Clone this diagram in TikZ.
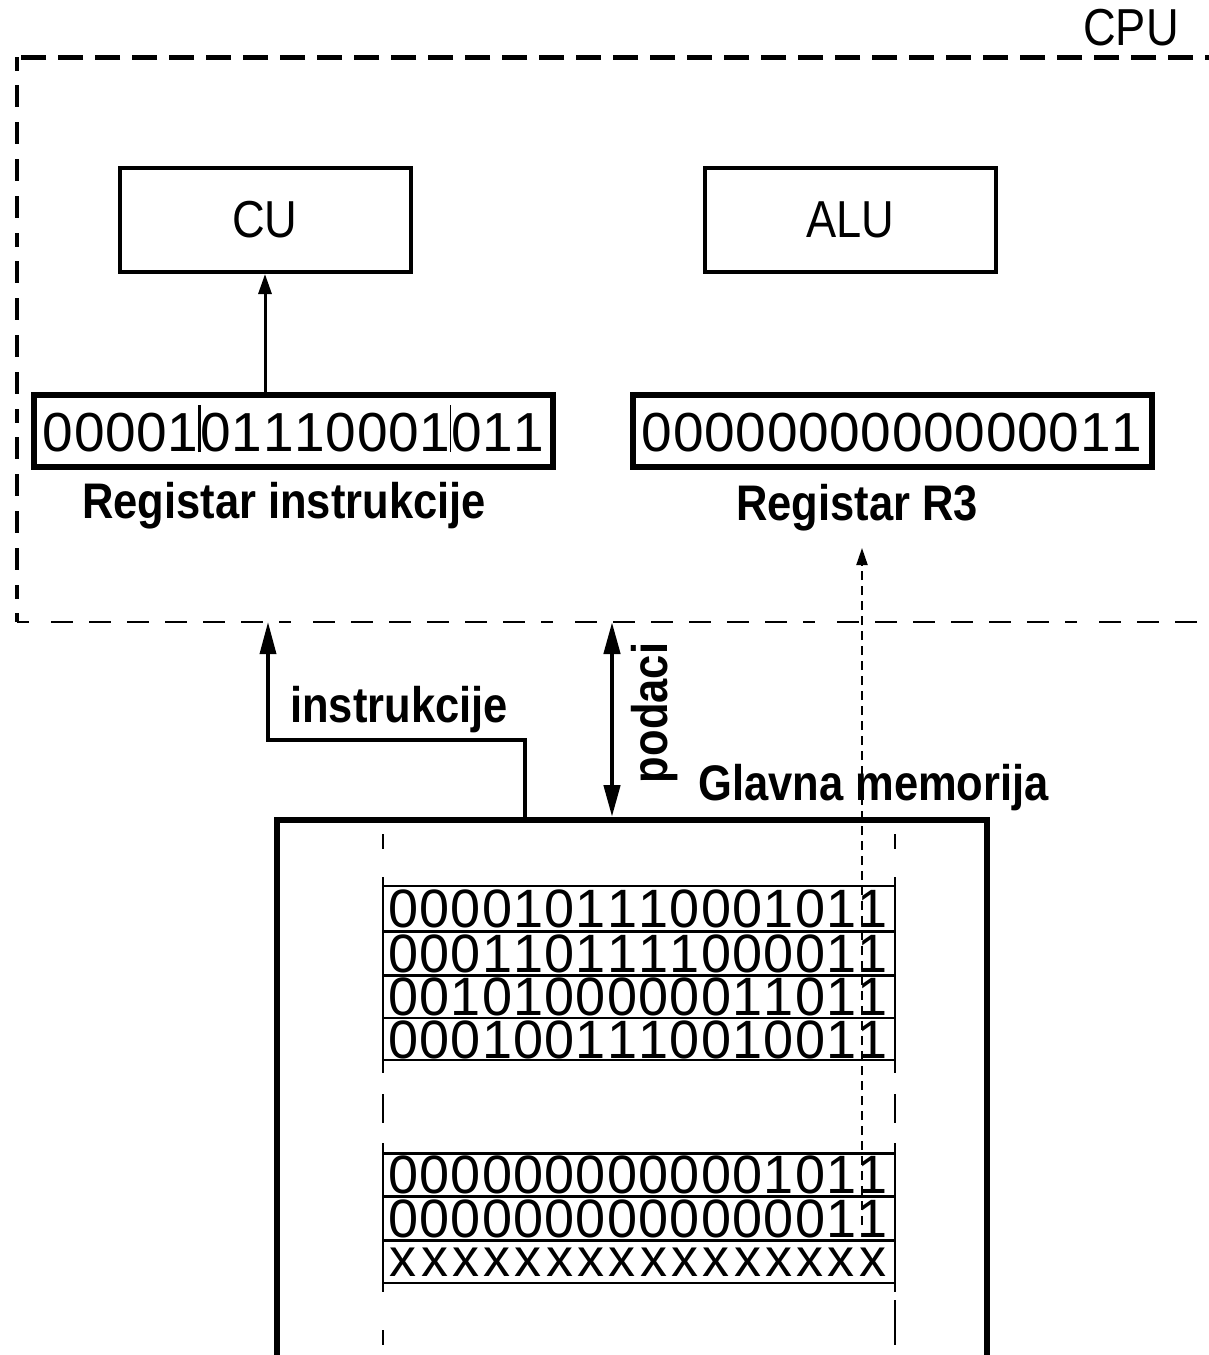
\documentclass[tikz,border=0pt]{standalone}
\usepackage{fontspec}
\setmainfont{Liberation Sans}
\newfontfamily\condfont{Liberation Sans}[FakeStretch=0.87]
\usetikzlibrary{arrows.meta}
\newlength\dw
\setlength{\dw}{31.3pt}
\newcommand\cells[1]{\cellsi#1\relax}
\def\cellsi#1{\ifx#1\relax\else\makebox[\dw]{#1}\expandafter\cellsi\fi}
\newcommand\irbar[1]{\kern-0.8pt\vrule width #1pt height 46pt depth 1pt\kern-0.8pt}
\begin{document}
\begin{tikzpicture}[x=1pt,y=-1pt,
  regbox/.style={draw, line width=6pt, minimum width=519pt, minimum height=72pt,
    inner sep=0pt, text height=40pt, text depth=0pt, font=\fontsize{55}{60}\selectfont},
  unitbox/.style={draw, line width=4pt, minimum width=291pt, minimum height=104pt,
    inner sep=0pt, font=\condfont\fontsize{52}{56}\selectfont},
  txt/.style={anchor=base, inner sep=0pt, font=\condfont\fontsize{52}{56}\selectfont},
  lab/.style={anchor=base, inner sep=0pt, font=\condfont\bfseries\fontsize{50}{54}\selectfont},
  memrow/.style={inner sep=0pt, text height=38pt, text depth=0pt, font=\fontsize{54}{58}\selectfont},
  thinrule/.style={line width=2pt},
  thickrule/.style={line width=3pt},
  memdash/.style={line width=2.5pt},
  conn/.style={line width=3.5pt, line join=miter},
  bigtip/.style={-{Triangle[width=16pt,length=32pt]}},
]
\useasboundingbox (0,0) rectangle (1209,1355);
\begin{scope}
\clip (0,0) rectangle (1209,1355);

% CPU container
\node[inner sep=0pt, outer sep=0pt, minimum width=1213pt, minimum height=565pt] (cpu) at (623.5,339.5) {};
\draw[line width=5pt, dash pattern=on 25pt off 12pt] (cpu.north east) -- (cpu.north west);
\draw[line width=3.5pt, dash pattern=on 14pt off 14pt on 22pt off 15pt on 22pt off 15pt on 22pt off 15pt on 22pt off 15pt] (cpu.north west) -- (cpu.south west);
\draw[line width=2.2pt, dash pattern=on 12pt off 22pt on 22pt off 16pt on 22pt off 16pt on 22pt off 16pt on 22pt off 16pt on 22pt off 16pt on 22pt off 16pt] (cpu.south west) -- (cpu.south east);
\node[txt] (cpulab) at (1131,45) {CPU};

% units
\node[unitbox] (cu) at (265,220) {CU};
\node[unitbox] (alu) at (850,219.5) {ALU};

% registers
\node[regbox] (ir) at (293.5,431) {\cells{00001}\irbar{3}\cells{01110001}\irbar{1.5}\cells{011}};
\node[regbox] (r3) at (892,431) {\cells{0000000000000011}};
\node[lab] (irlab) at (284,518) {Registar instrukcije};
\node[lab] (r3lab) at (857,520) {Registar R3};

\draw[line width=3pt, -{Triangle[width=13pt,length=20pt]}] (cu.south |- ir.north) -- (cu.south);

% memory
\node[draw, line width=6pt, inner sep=0pt, minimum width=710pt, minimum height=700pt] (mem) at (632,1170) {};
\node[lab, anchor=base west] (memlab) at (698,800) {Glavna memorija};

% memory cells
\node[memrow] (m1) at (638,908.5) {\cells{0000101110001011}};
\node[memrow] (m2) at (638,953) {\cells{0001101111000011}};
\node[memrow] (m3) at (638,996.5) {\cells{0010100000011011}};
\node[memrow] (m4) at (638,1039) {\cells{0001001110010011}};
\node[memrow] (m5) at (638,1174.5) {\cells{0000000000001011}};
\node[memrow] (m6) at (638,1218) {\cells{0000000000000011}};
\node[memrow, text height=28pt] (m7) at (638,1262) {\cells{xxxxxxxxxxxxxxxx}};

\draw[thinrule] (383,886) -- (895,886);
\draw[thickrule] (383,931) -- (895,931);
\draw[thickrule] (383,975) -- (895,975);
\draw[thinrule] (383,1018) -- (895,1018);
\draw[thinrule] (383,1060) -- (895,1060);
\draw[thickrule] (383,1153) -- (895,1153);
\draw[thickrule] (383,1196) -- (895,1196);
\draw[thickrule] (383,1240) -- (895,1240);
\draw[thinrule] (383,1283) -- (895,1283);

\foreach \xx in {383,895}{
  \draw[memdash] (\xx,834) -- (\xx,849);
  \draw[memdash] (\xx,877) -- (\xx,1073);
  \draw[memdash] (\xx,1094) -- (\xx,1123);
  \draw[memdash] (\xx,1143) -- (\xx,1292);
}
\draw[memdash] (383,1330) -- (383,1345);
\draw[memdash] (895,1300) -- (895,1345);

% buses
\coordinate (ib1) at (525,740);
\coordinate (ib2) at (268,740);
\draw[conn, bigtip] (mem.north -| ib1) -- (ib1) -- (ib2) -- (cpu.south -| ib2);
\node[lab, anchor=base west] (instrlab) at (290,722) {instrukcije};

\coordinate (pb) at (612,700);
\draw[line width=4.5pt, {Triangle[width=16pt,length=32pt]}-{Triangle[width=16pt,length=32pt]}] (mem.north -| pb) -- (cpu.south -| pb);
\node[lab, rotate=90] (podlab) at (667,713) {podaci};

% load of data into R3
\coordinate (ds) at (862,1225);
\coordinate (de) at (862,548);
\draw[line width=2pt, dash pattern=on 9pt off 6pt, -{Triangle[width=11pt,length=17pt]}] (ds) -- (de);
\end{scope}
\end{tikzpicture}
\end{document}
